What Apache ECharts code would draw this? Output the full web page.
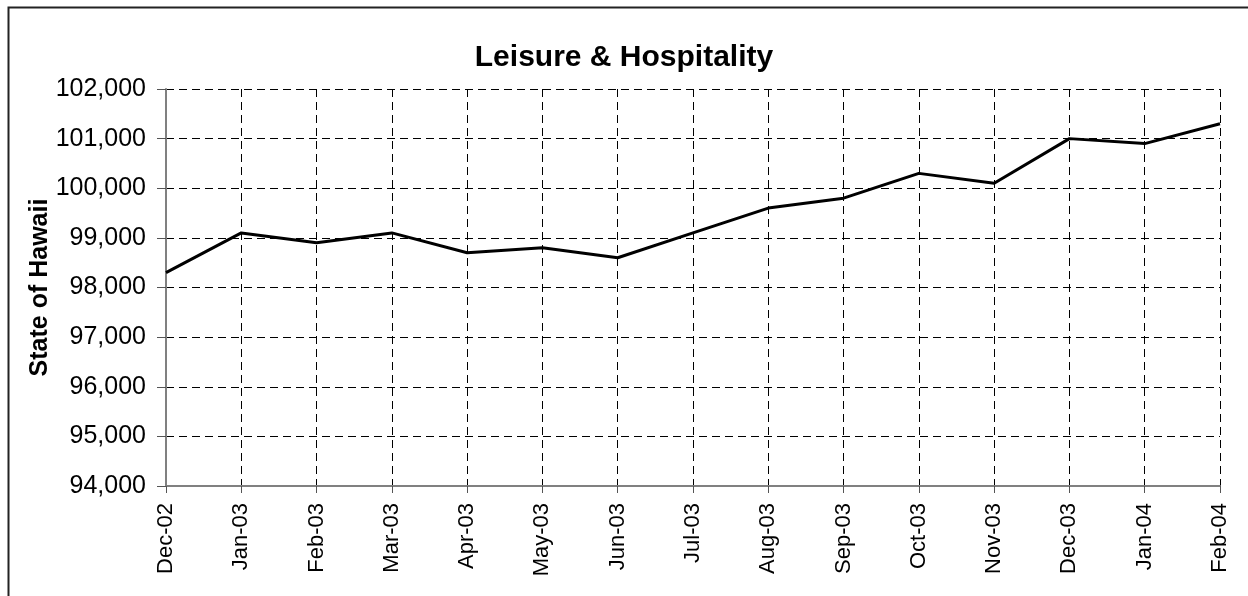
<!DOCTYPE html>
<html>
<head>
<meta charset="utf-8">
<script src="https://cdn.jsdelivr.net/npm/echarts@6/dist/echarts.min.js"></script>
<style>
html,body{margin:0;padding:0;background:#fff;}
#chart{width:1248px;height:596px;}
</style>
</head>
<body>
<div id="chart"></div>
<script>
const categories = ['Dec-02','Jan-03','Feb-03','Mar-03','Apr-03','May-03','Jun-03','Jul-03','Aug-03','Sep-03','Oct-03','Nov-03','Dec-03','Jan-04','Feb-04'];
const employment = [98300,99100,98900,99100,98700,98800,98600,99100,99600,99800,100300,100100,101000,100900,101300];
const yMin = 94000, yMax = 102000, yStep = 1000;

const FONT = '"Liberation Sans", Arial, sans-serif';
const chart = echarts.init(document.getElementById('chart'));
chart.setOption({
  animation: false,
  backgroundColor: '#fff',
  graphic: [{
    type: 'rect', left: 6, top: 5, z: -1,
    shape: {x: 0, y: 0, width: 1400, height: 800},
    style: {fill: 'none', stroke: '#222', lineWidth: 2}
  }],
  title: {
    text: 'Leisure & Hospitality', left: 'center', top: 38,
    textStyle: {fontFamily: FONT, fontSize: 30, fontWeight: 'bold', color: '#000'}
  },
  grid: {left: 166, right: 28, top: 89, bottom: 110, containLabel: false},
  xAxis: {
    type: 'category', data: categories, boundaryGap: false,
    axisLine: {lineStyle: {color: '#808080', width: 2}},
    axisTick: {show: true, alignWithLabel: true, length: 7, lineStyle: {color: '#555'}},
    axisLabel: {rotate: 90, margin: 17, interval: 0, fontFamily: FONT, fontSize: 22, color: '#000'},
    splitLine: {show: true, lineStyle: {color: '#000', type: [8, 5], width: 1}}
  },
  yAxis: {
    type: 'value', min: yMin, max: yMax, interval: yStep,
    name: 'State of Hawaii', nameLocation: 'middle', nameGap: 113, nameRotate: 90,
    nameMoveOverlap: false,
    nameTextStyle: {fontFamily: FONT, fontSize: 25, fontWeight: 'bold', color: '#000'},
    axisLine: {show: true, lineStyle: {color: '#808080', width: 2}},
    axisTick: {show: true, length: 9, lineStyle: {color: '#555'}},
    axisLabel: {margin: 20, fontFamily: FONT, fontSize: 25, color: '#000',
      formatter: v => v.toLocaleString('en-US')},
    splitLine: {show: true, lineStyle: {color: '#000', type: [8, 5], width: 1}}
  },
  series: [{
    type: 'line', data: employment, symbol: 'none',
    lineStyle: {color: '#000', width: 3}
  }]
});
</script>
</body>
</html>
